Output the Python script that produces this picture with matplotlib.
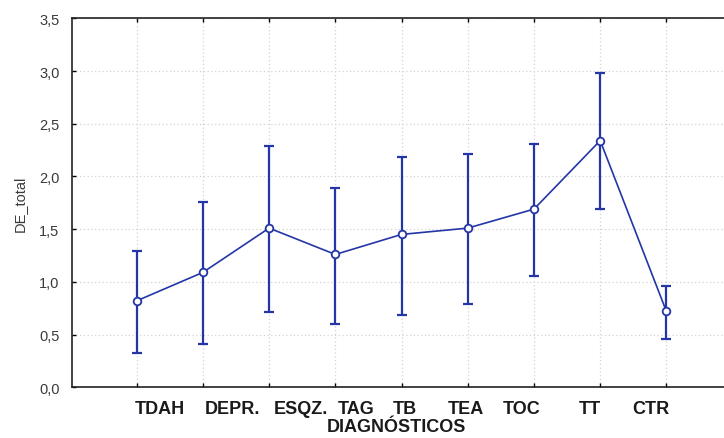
import matplotlib
matplotlib.use("Agg")
import matplotlib.pyplot as plt
from matplotlib.ticker import FixedLocator

plt.rcParams['font.family'] = ['Liberation Sans', 'DejaVu Sans']

# Data
categories = ['TDAH', 'DEPR.', 'ESQZ.', 'TAG', 'TB', 'TEA', 'TOC', 'TT', 'CTR']
means = [0.82, 1.09, 1.51, 1.26, 1.45, 1.51, 1.69, 2.34, 0.72]
upper = [1.29, 1.76, 2.29, 1.89, 2.18, 2.21, 2.31, 2.98, 0.96]
lower = [0.33, 0.41, 0.71, 0.60, 0.69, 0.79, 1.06, 1.69, 0.46]
y_ticks = [0.0, 0.5, 1.0, 1.5, 2.0, 2.5, 3.0, 3.5]

# the category labels sit a little off their tick marks in the original
label_shift = [0.35, 0.44, 0.48, 0.31, 0.05, -0.03, -0.18, -0.15, -0.23]

blue = '#2436A6'
narrow = ['Liberation Sans Narrow', 'Liberation Sans', 'DejaVu Sans']

fig = plt.figure(figsize=(7.24, 4.39), dpi=100)
ax = fig.add_axes([72 / 724, 1 - 388.3 / 439, 1 - 72 / 724, (388.3 - 19.3) / 439])

x = list(range(len(categories)))
err_lo = [m - l for m, l in zip(means, lower)]
err_hi = [u - m for u, m in zip(upper, means)]

ax.errorbar(x, means, yerr=[err_lo, err_hi], fmt='none', ecolor=blue,
            elinewidth=1.6, capsize=3.5, capthick=1.6, zorder=3)
ax.plot(x, means, color=blue, linewidth=1.2, marker='o', markersize=5.5,
        markerfacecolor='white', markeredgecolor=blue, markeredgewidth=1.3, zorder=4)

ax.set_xlim(-0.977, 8.87)
ax.set_ylim(0, 3.5)

# y axis
ax.set_yticks(y_ticks)
ax.set_yticklabels([f'{v:.1f}'.replace('.', ',') for v in y_ticks])
ax.tick_params(axis='y', direction='in', length=3, width=1, labelsize=10.5,
               labelcolor='#3a3a3a', pad=9)
ax.set_ylabel('DE_total', fontsize=10.5, color='#3a3a3a', labelpad=9)

# x axis: tick marks at categories, labels on minor ticks
ax.set_xticks(x)
ax.set_xticklabels([])
ax.xaxis.set_minor_locator(FixedLocator([i + s for i, s in zip(x, label_shift)]))
ax.set_xticklabels(categories, minor=True)
ax.tick_params(axis='x', which='major', direction='in', length=3, width=1,
               top=True, bottom=True)
ax.tick_params(axis='x', which='minor', length=0, pad=9, labelsize=13)
for lab in ax.get_xticklabels(minor=True):
    lab.set_family(narrow)
    lab.set_fontweight('bold')
    lab.set_color('#1a1a1a')
ax.set_xlabel('DIAGNÓSTICOS', fontsize=13, fontweight='bold', family=narrow,
              color='#1a1a1a', labelpad=1)
ax.xaxis.label.set_x((396 - 72) / (724 - 72))

ax.grid(True, which='major', linestyle=(0, (1, 2)), color='#D2D2D2', linewidth=0.9)
ax.set_axisbelow(True)

for side in ['left', 'top', 'bottom']:
    ax.spines[side].set_linewidth(1.2)
    ax.spines[side].set_color('#222222')
ax.spines['right'].set_visible(False)

fig.savefig('out.png', dpi=100)
